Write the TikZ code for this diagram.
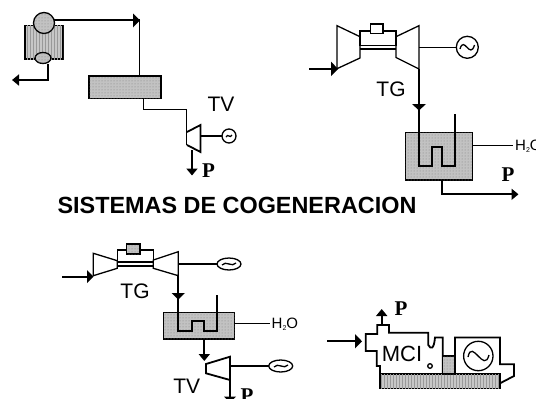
\documentclass[tikz,border=0pt]{standalone}
\usepackage{fontspec}
\setmainfont{Liberation Sans}
\newfontfamily\serifP{Liberation Serif}
\usetikzlibrary{arrows.meta,patterns}
\newcommand{\lbl}[1]{\fontsize{#1}{#1}\selectfont}
\tikzset{
  line/.style={line width=1.3pt,black},
  thick line/.style={line width=1.8pt,black},
  dotsfill/.style={fill=black!24,postaction={pattern=dots,pattern color=black!50}},
  stripefill/.style={fill=black!22,postaction={pattern=vertical lines,pattern color=black!40}},
  tip/.style={-{Triangle[length=7pt,width=11pt]}},
  plabel/.style={inner sep=0pt,anchor=base,font=\serifP\bfseries\lbl{21}},
  sanslabel/.style={inner sep=0pt,anchor=base,font=\lbl{21}},
  h2o/.style={inner sep=0pt,anchor=base west,font=\lbl{15}}
}
\newcommand{\water}{H\raisebox{-2pt}{\lbl{7}2}O}
\begin{document}
\begin{tikzpicture}[x=1pt,y=-1pt]
\useasboundingbox (0,0) rectangle (536,399);
\clip (0,0) rectangle (536,399);
\fill[white] (0,0) rectangle (536,399);

% --- top-left: boiler + drum + steam turbine
\draw[line,stripefill] (25,25.5) rectangle (63,59);
\draw[line,dotsfill] (44,23) circle (10.5);
\draw[line,dotsfill] (43,58) ellipse (8 and 5.5);
\coordinate (bout) at (48,63.5);
\coordinate (bk) at (48,80);
\coordinate (bend) at (12,80);
\draw[thick line,tip] (bout) -- (bk) -- (bend);
\coordinate (hsrc) at (54,20.3);
\coordinate (hk) at (140,20.3);
\draw[thick line] (hsrc) -- (hk);
\draw[line] (139.5,20.3) -- (139.5,76);
\fill (133,13.5) -- (140,20.3) -- (133,27.5) -- cycle;
\draw[line,dotsfill] (89,76) rectangle (161,98.3);
\draw[thick line] (143.5,98.3) -- (143.5,109.5) -- (186.5,109.5) -- (186.5,145);
\draw[thick line] (187,132) -- (200.5,125) -- (200.5,152) -- (187,145);
\draw[thick line] (200.5,136) -- (222,136);
\draw[line,fill=white] (229,136) circle (7);
\draw[line] (226,137) .. controls (228,133) and (230,139) .. (232,135);
\draw[thick line,tip] (192,150) -- (192,175.5);
\node[plabel] (p1) at (208.5,177) {P};
\node[sanslabel] (tv1) at (221,111.5) {TV};

% --- top-right: gas turbine + HRSG
\draw[line] (337,25.7) -- (360,36.7) -- (360,58) -- (337,68.7) -- cycle;
\draw[line] (396,36.7) -- (419,25.7) -- (419,69) -- (396,57.5) -- cycle;
\draw[line] (360,31) rectangle (396,45.5);
\draw[line] (360,49) -- (396,49);
\draw[line,fill=white] (370.7,24) rectangle (383,33.5);
\draw[line] (419,47.3) -- (456,47.3);
\draw[line] (467.3,47.3) circle (11);
\draw[line] (460,49) .. controls (464,35) and (470,60) .. (474.5,45);
\draw[thick line] (309,69) -- (331,69);
\fill (331,61.5) -- (338,69) -- (331,76) -- cycle;
\draw[line,dotsfill] (405.3,132.7) rectangle (472.7,180);
\draw[thick line] (419,69) -- (419,166) -- (431.7,166) -- (431.7,146.7) -- (442,146.7) -- (442,166) -- (455,166) -- (455,114);
\fill (412,104) -- (426,104) -- (419,110.5) -- cycle;
\draw[line] (472.7,145.7) -- (512.7,145.7);
\node[h2o] (w1) at (515,150) {\water};
\draw[thick line,tip] (441.7,180) -- (441.7,194.3) -- (518.5,194.3);
\node[plabel] (p2) at (508,181.5) {P};
\node[sanslabel] (tg1) at (391,96) {TG};

% --- title
\node[inner sep=0pt,anchor=base,font=\bfseries\lbl{23.4}] (title) at (237,213) {SISTEMAS DE COGENERACION};

% --- bottom-left: combined cycle
\draw[line] (93.3,253.3) -- (117.3,260.7) -- (117.3,268.3) -- (93.3,275.7) -- cycle;
\draw[line] (153.3,260) -- (178.3,251.7) -- (178.3,275.7) -- (153.3,268.3) -- cycle;
\draw[line] (117.3,250) rectangle (153.3,262);
\draw[line] (117.3,266) -- (153.3,266);
\draw[line,dotsfill] (126.7,244) rectangle (140,254);
\draw[line] (178.3,264) -- (218.3,264);
\draw[line] (229,264) ellipse (12 and 6);
\draw[line] (222,265) .. controls (226,260) and (232,268) .. (236,263);
\draw[thick line] (62,276.7) -- (87,276.7);
\fill (87,270) -- (93.5,276.7) -- (87,283) -- cycle;
\draw[line,dotsfill] (163.3,312.3) rectangle (234.3,339);
\draw[thick line] (178.3,275.7) -- (178.3,330.7) -- (191.7,330.7) -- (191.7,320.7) -- (204.3,320.7) -- (204.3,330.7) -- (216.7,330.7) -- (216.7,295);
\fill (171.5,293) -- (185,293) -- (178.3,299.5) -- cycle;
\draw[line] (234.3,323.3) -- (270,323.3);
\node[h2o] (w2) at (271.5,328) {\water};
\draw[thick line,tip] (204.3,339) -- (204.3,361);
\draw[thick line] (206,364) -- (230,356.7) -- (230,380) -- (206,373.3) -- cycle;
\draw[line] (230,366) -- (269,366);
\draw[line] (280.7,366) ellipse (12 and 6);
\draw[line] (274,367) .. controls (278,362) and (284,370) .. (288,365);
\draw[thick line] (230,380) -- (230,398);
\fill (224,396.5) -- (236,396.5) -- (230,403) -- cycle;
\node[plabel] (p3) at (247,402) {P};
\node[sanslabel] (tg2) at (135,298.5) {TG};
\node[sanslabel] (tv2) at (186.7,393) {TV};

% --- bottom-right: MCI
\draw[line,stripefill] (380,374) rectangle (500,388.5);
\draw[thick line] (380,374) -- (380,366) -- (376.7,366) -- (376.7,351) -- (365.7,351) -- (365.7,334) -- (377.3,334) -- (377.3,325) -- (389,325) -- (389,332.7) -- (428.3,332.7) -- (428.3,345) .. controls (431,350) and (434,349) .. (435,337.5) -- (442.7,337.5) -- (442.7,374);
\draw[line,dotsfill] (442.7,356) rectangle (455,374);
\draw[thick line] (455,374) -- (455,337.5) -- (500,337.5) -- (500,364.3) -- (514,364.3) -- (514,376) -- (500,383.3);
\draw[line] (478.3,356) circle (14.7);
\draw[line] (468,357) .. controls (472,338) and (484,374) .. (489,355);
\draw[line] (430,366) circle (2.3);
\draw[thick line,tip] (381.7,325) -- (381.7,309);
\draw[thick line] (327.3,341.3) -- (356,341.3);
\fill (355,334) -- (362,341.3) -- (355,348.5) -- cycle;
\node[plabel] (p4) at (401,315) {P};
\node[inner sep=0pt,anchor=base,font=\lbl{22}] (mci) at (402,361.5) {MCI};
\end{tikzpicture}
\end{document}
